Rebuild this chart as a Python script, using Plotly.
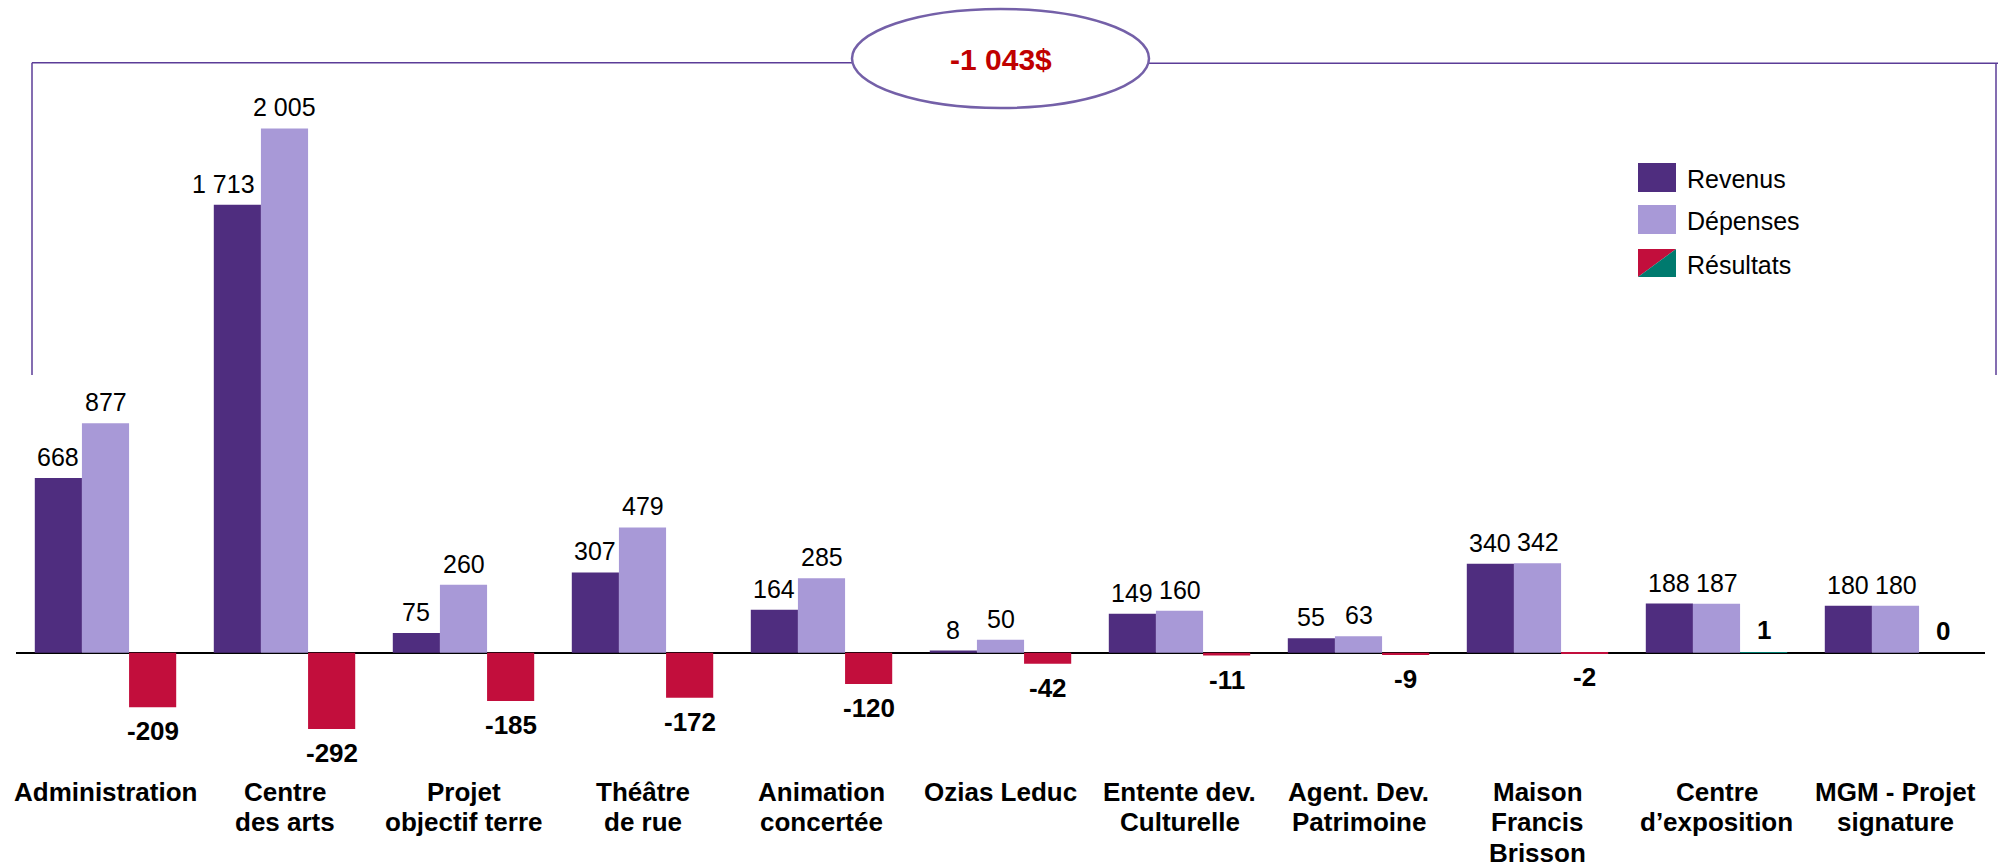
import plotly.graph_objects as go

# ---------------- data ----------------
categories = [
    "Administration", "Centre des arts", "Projet objectif terre", "Théâtre de rue",
    "Animation concertée", "Ozias Leduc", "Entente dev. Culturelle",
    "Agent. Dev. Patrimoine", "Maison Francis Brisson", "Centre d’exposition",
    "MGM - Projet signature",
]
tick_labels = [
    "Administration", "Centre<br>des arts", "Projet<br>objectif terre", "Théâtre<br>de rue",
    "Animation<br>concertée", "Ozias Leduc", "Entente dev.<br>Culturelle",
    "Agent. Dev.<br>Patrimoine", "Maison<br>Francis<br>Brisson", "Centre<br>d’exposition",
    "MGM - Projet<br>signature",
]
revenus = [668, 1713, 75, 307, 164, 8, 149, 55, 340, 188, 180]
depenses = [877, 2005, 260, 479, 285, 50, 160, 63, 342, 187, 180]
resultats = [-209, -292, -185, -172, -120, -42, -11, -9, -2, 1, 0]
series_names = ["Revenus", "Dépenses", "Résultats"]
total_label = "-1 043$"

# ---------------- style ----------------
FONT = "Liberation Sans, Arial, Helvetica, sans-serif"
C_REV = "#4F2D7F"
C_DEP = "#A899D7"
C_NEG = "#C20E3C"
C_POS = "#007A6E"
C_FRAME = "#5B3C97"
C_ELLIPSE = "#7460A8"
C_TOTAL = "#C00000"

W, H = 2003, 867
ML, MR, MT, MB = 16, 18, 100, 95
PLOT_W = W - ML - MR
PLOT_H = H - MT - MB
ZERO_PX = 652.7
PX_PER_UNIT = 0.2615
y_top = (ZERO_PX - MT) / PX_PER_UNIT
y_bot = -((H - MB) - ZERO_PX) / PX_PER_UNIT
BARGAP = 0.21
N_SERIES = 3
BAR_PX = PLOT_W / len(categories) * (1 - BARGAP) / N_SERIES


def px_x(px):
    return (px - ML) / PLOT_W


def px_y(py):
    return ((H - MB) - py) / PLOT_H


def fmt(v):
    return f"{v:,}".replace(",", " ")


fig = go.Figure()
fig.add_trace(go.Bar(name=series_names[0], x=categories, y=revenus,
                     marker=dict(color=C_REV, line=dict(width=0)), showlegend=False))
fig.add_trace(go.Bar(name=series_names[1], x=categories, y=depenses,
                     marker=dict(color=C_DEP, line=dict(width=0)), showlegend=False))
fig.add_trace(go.Bar(name=series_names[2], x=categories, y=resultats,
                     marker=dict(color=[C_NEG if v < 0 else C_POS for v in resultats],
                                 line=dict(width=0)),
                     showlegend=False))

annotations = []


def add_value_labels(values, slot, size, bold, nudges=None):
    nudges = nudges or {}
    for i, v in enumerate(values):
        up = v >= 0
        annotations.append(dict(
            xref="x", yref="y", x=categories[i], y=v, text=fmt(v), showarrow=False,
            xanchor="center", yanchor="bottom" if up else "top",
            xshift=slot * BAR_PX + nudges.get(i, 0), yshift=5 if up else -7,
            font=dict(family=FONT, size=size, color="black",
                      weight="bold" if bold else "normal"),
        ))


add_value_labels(revenus, -1, 25, False, nudges={1: -14})
add_value_labels(depenses, 0, 25, False)
add_value_labels(resultats, 1, 26, True)

# category labels, one annotation per line
line_centers = [791.5, 822, 852.5]
for cat, lab in zip(categories, tick_labels):
    for k, part in enumerate(lab.split("<br>")):
        annotations.append(dict(
            xref="x", yref="paper", x=cat, y=px_y(line_centers[k]), text=part,
            showarrow=False, xanchor="center", yanchor="middle",
            font=dict(family=FONT, size=26, color="black", weight="bold"),
        ))

shapes = []
# bracket frame
frame = dict(type="line", xref="paper", yref="paper", line=dict(color=C_FRAME, width=1.5))
shapes.append({**frame, "x0": px_x(32), "x1": px_x(852), "y0": px_y(62.7), "y1": px_y(62.7)})
shapes.append({**frame, "x0": px_x(1149), "x1": px_x(1998), "y0": px_y(63.3), "y1": px_y(63.3)})
shapes.append({**frame, "x0": px_x(32), "x1": px_x(32), "y0": px_y(62.7), "y1": px_y(375)})
shapes.append({**frame, "x0": px_x(1996), "x1": px_x(1996), "y0": px_y(63.3), "y1": px_y(375)})
# ellipse
shapes.append(dict(type="circle", xref="paper", yref="paper",
                   x0=px_x(852), x1=px_x(1149), y0=px_y(108), y1=px_y(9),
                   line=dict(color=C_ELLIPSE, width=2.5), fillcolor="white"))

# custom legend
legend_rows = [(163, 192), (205, 234), (249, 277)]
sw_x0, sw_x1 = 1638, 1676
for (ya, yb), col in zip(legend_rows[:2], [C_REV, C_DEP]):
    shapes.append(dict(type="rect", xref="paper", yref="paper",
                       x0=px_x(sw_x0), x1=px_x(sw_x1), y0=px_y(yb), y1=px_y(ya),
                       fillcolor=col, line=dict(width=0)))
ya, yb = legend_rows[2]
shapes.append(dict(type="path", xref="paper", yref="paper",
                   path=f"M {px_x(sw_x0)} {px_y(ya)} L {px_x(sw_x1)} {px_y(ya)} L {px_x(sw_x0)} {px_y(yb)} Z",
                   fillcolor=C_NEG, line=dict(width=0)))
shapes.append(dict(type="path", xref="paper", yref="paper",
                   path=f"M {px_x(sw_x1)} {px_y(ya)} L {px_x(sw_x1)} {px_y(yb)} L {px_x(sw_x0)} {px_y(yb)} Z",
                   fillcolor=C_POS, line=dict(width=0)))

for (ya, yb), name in zip(legend_rows, series_names):
    annotations.append(dict(xref="paper", yref="paper", x=px_x(1685), y=px_y((ya + yb) / 2 + 1.5),
                            text=name, showarrow=False, xanchor="left", yanchor="middle",
                            font=dict(family=FONT, size=25, color="black")))
annotations.append(dict(xref="paper", yref="paper", x=px_x(1001), y=px_y(60),
                        text=total_label, showarrow=False, xanchor="center", yanchor="middle",
                        font=dict(family=FONT, size=30, color=C_TOTAL, weight="bold")))

fig.update_layout(
    width=W, height=H,
    margin=dict(l=ML, r=MR, t=MT, b=MB, autoexpand=False),
    paper_bgcolor="white", plot_bgcolor="white",
    barmode="group", bargap=BARGAP, bargroupgap=0,
    showlegend=False,
    shapes=shapes, annotations=annotations,
    font=dict(family=FONT, color="black"),
    xaxis=dict(
        type="category", categoryorder="array", categoryarray=categories,
        range=[-0.5, len(categories) - 0.5], autorange=False,
        showticklabels=False, showgrid=False, showline=False, zeroline=False,
        ticks="", automargin=False,
    ),
    yaxis=dict(
        range=[y_bot, y_top], autorange=False, showgrid=False, showticklabels=False,
        ticks="", showline=False, zeroline=True, zerolinecolor="black", zerolinewidth=2,
        automargin=False,
    ),
)

fig.write_html("out.html")
